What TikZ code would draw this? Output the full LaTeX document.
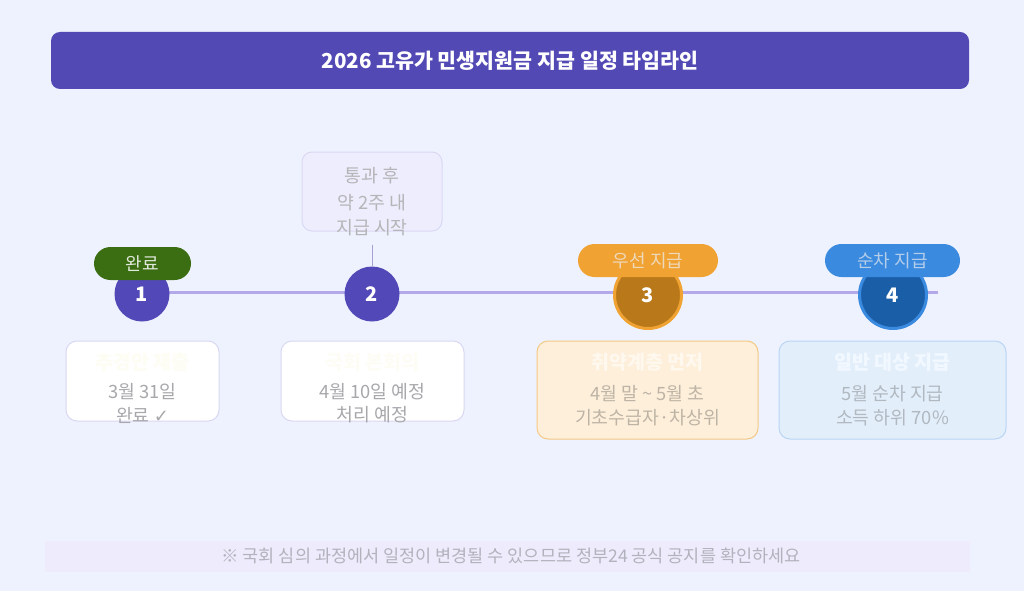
\documentclass[tikz,border=0pt]{standalone}
\usepackage{fontspec}
\setmainfont{Noto Sans CJK KR}
\newfontfamily\dejavu{DejaVu Sans}
\definecolor{bg}{HTML}{EEF2FE}
\definecolor{indigo}{HTML}{5249B5}
\definecolor{tline}{HTML}{B2A8EA}
\definecolor{cpurple}{HTML}{5248B8}
\definecolor{corange}{HTML}{B97819}
\definecolor{borange}{HTML}{F0A232}
\definecolor{cblue}{HTML}{1B5EA8}
\definecolor{bblue}{HTML}{3A8AE0}
\definecolor{bgreen}{HTML}{3B6E12}
\definecolor{cardline}{HTML}{D9D8F2}
\definecolor{txtgray}{HTML}{A8A8AC}
\definecolor{card3fill}{HTML}{FDEFDA}
\definecolor{card3line}{HTML}{F4C983}
\definecolor{card4fill}{HTML}{E3EEFB}
\definecolor{card4line}{HTML}{B9D5F4}
\definecolor{topfill}{HTML}{EDEDFD}
\definecolor{topline}{HTML}{DAD8F3}
\definecolor{foot}{HTML}{EEEBFD}
\tikzset{
  circ/.style={circle, inner sep=0pt, text=white, font=\fontsize{20}{24}\selectfont\bfseries},
  badge/.style={rounded corners=16.5pt, minimum height=33pt, inner sep=0pt, font=\fontsize{18}{21}\selectfont},
  card/.style={draw=cardline, line width=1pt, fill=white, rounded corners=11pt, inner sep=0pt},
  ttl/.style={font=\fontsize{19.5}{23}\selectfont\bfseries, inner sep=0pt},
  body/.style={font=\fontsize{18.3}{22}\selectfont, text=txtgray, inner sep=0pt},
}
\begin{document}
\begin{tikzpicture}[x=1pt,y=-1pt]
\useasboundingbox (0,0) rectangle (1024,591);
\fill[bg] (0,0) rectangle (1024,591);
% header
\node[fill=indigo, rounded corners=9pt, minimum width=918pt, minimum height=57pt, inner sep=0pt] (hdr) at (510,60.5) {};
\node[text=white, font=\fontsize{20.6}{24}\selectfont\bfseries, inner sep=0pt] (hdrtxt) at (510,61) {2026 고유가 민생지원금 지급 일정 타임라인};
% timeline
\coordinate (tls) at (115,292);
\coordinate (tle) at (938,292);
\draw[tline, line width=3pt] (tls) -- (tle);
% top box
\node[draw=topline, fill=topfill, line width=1pt, rounded corners=10pt, minimum width=140pt, minimum height=79pt, inner sep=0pt] (top) at (372,191.5) {};
\node[body, text=txtgray!85] (top1) at (372,176) {통과 후};
\node[body, text=txtgray!85] (top2) at (372,203) {약 2주 내};
\node[body, text=txtgray!85] (top3) at (372,228) {지급 시작};
% circles
\node[circ, fill=cpurple, minimum size=55pt] (c1) at (142,294) {1};
\node[circ, fill=cpurple, minimum size=55pt] (c2) at (372,294) {2};
\node[circ, fill=corange, draw=borange, line width=3pt, minimum size=67pt] (c3) at (648,295) {3};
\node[circ, fill=cblue, draw=bblue, line width=3pt, minimum size=67pt] (c4) at (893,295) {4};
\draw[tline!80!gray, line width=1pt] ([yshift=-13pt]top.south) -- (c2.north);
% badges
\node[badge, fill=bgreen, text=white!85!bgreen, minimum width=97pt] (b1) at (142.5,263.5) {완료};
\node[badge, fill=borange, text=white!70!borange!90!gray, minimum width=140pt] (b3) at (648,260.5) {우선 지급};
\node[badge, fill=bblue, text=white!65!bblue!90!gray, minimum width=135pt] (b4) at (892.5,260.5) {순차 지급};
% cards
\node[card, minimum width=153pt, minimum height=80pt] (k1) at (142.5,381) {};
\node[card, minimum width=183pt, minimum height=80pt] (k2) at (372.5,381) {};
\node[card, draw=card3line, fill=card3fill, minimum width=221pt, minimum height=98pt] (k3) at (647.5,390) {};
\node[card, draw=card4line, fill=card4fill, minimum width=227pt, minimum height=98pt] (k4) at (892.5,390) {};
\node[ttl, text={rgb,255:red,253;green,253;blue,244}] (k1t) at (142.5,362) {추경안 제출};
\node[body] (k1a) at (142.5,392) {3월 31일};
\node[body] (k1b) at (142.5,415) {완료 {\dejavu\fontsize{18}{21}\selectfont ✓}};
\node[ttl, text={rgb,255:red,253;green,253;blue,246}] (k2t) at (372.5,362) {국회 본회의};
\node[body] (k2a) at (372.5,392) {4월 10일 예정};
\node[body] (k2b) at (372.5,415) {처리 예정};
\node[ttl, text={rgb,255:red,255;green,248;blue,238}] (k3t) at (647.5,362) {취약계층 먼저};
\node[body, text={rgb,255:red,190;green,180;blue,165}] (k3a) at (647.5,394) {4월 말 \textasciitilde{} 5월 초};
\node[body, text={rgb,255:red,190;green,180;blue,165}] (k3b) at (647.5,418) {기초수급자·차상위};
\node[ttl, text={rgb,255:red,242;green,248;blue,255}] (k4t) at (892.5,362) {일반 대상 지급};
\node[body, text={rgb,255:red,176;green,184;blue,192}] (k4a) at (892.5,394) {5월 순차 지급};
\node[body, text={rgb,255:red,176;green,184;blue,192}] (k4b) at (892.5,418) {소득 하위 70\%};
% footer
\node[fill=foot, minimum width=925pt, minimum height=31pt, inner sep=0pt] (ft) at (507.5,556.5) {};
\node[text={rgb,255:red,178;green,178;blue,188}, font=\fontsize{17.5}{20}\selectfont, inner sep=0pt] (fttxt) at (511,556) {※ 국회 심의 과정에서 일정이 변경될 수 있으므로 정부24 공식 공지를 확인하세요};
\end{tikzpicture}
\end{document}
